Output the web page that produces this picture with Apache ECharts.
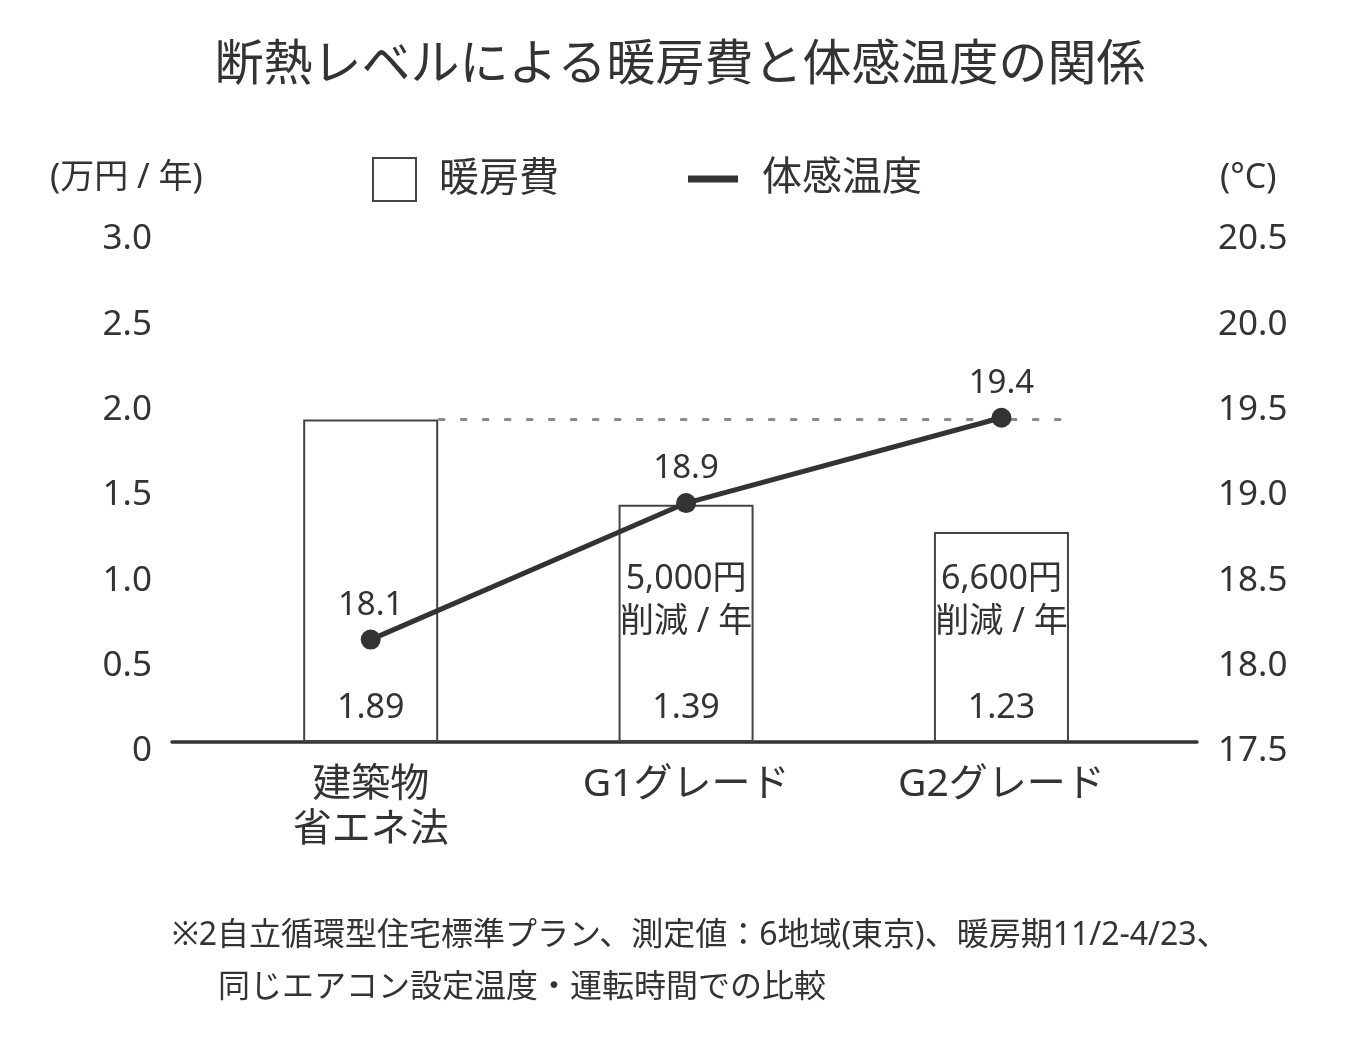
<!DOCTYPE html>
<html style="height: 100%;width:100%">
<head>
    <meta charset="utf-8">
    <style>
        html, body {
            margin: 0;
            padding: 0;
            height: 100%;
            width: 100%;
            background: #fff;
        }

        #chart-panel {
            width: 1360px;
            height: 1045px;
        }
    </style>
</head>
<body>
    <div id="chart-panel"></div>
    <script src="https://cdn.jsdelivr.net/npm/echarts@6/dist/echarts.min.js"></script>
    <script type="text/javascript">
        // データ
        var categories = ['建築物\n省エネ法', 'G1グレード', 'G2グレード'];
        var heatingCost = [1.89, 1.39, 1.23];      // 万円/年
        var feltTemp = [18.1, 18.9, 19.4];         // ℃
        var savings = ['', '5,000円\n削減 / 年', '6,600円\n削減 / 年'];
        var axisNames = ['(万円 / 年)', '(°C)'];
        var footnotes = [
            '※2自立循環型住宅標準プラン、測定値：6地域(東京)、暖房期11/2-4/23、',
            '同じエアコン設定温度・運転時間での比較'
        ];

        var FONT = "'Noto Sans', 'Noto Sans CJK JP', sans-serif";
        var TXT = '#333';
        var GRID_L = 172, GRID_R = 163;
        var X_MIN = -0.63, X_MAX = 2.62;
        var BAR_W = 135;
        // 棒の半幅（x軸の単位）: 点線を1本目の棒の右端から引くため
        var halfBar = (BAR_W / 2) / ((1360 - GRID_L - GRID_R) / (X_MAX - X_MIN));

        var myChart = echarts.init(document.getElementById('chart-panel'));

        function plainTitle(text, left, top, size) {
            return {
                text: text,
                left: left,
                top: top,
                textStyle: { fontFamily: FONT, fontSize: size, fontWeight: 'normal', color: TXT }
            };
        }

        var option = {
            backgroundColor: '#fff',
            textStyle: { fontFamily: FONT, color: TXT },
            title: [
                plainTitle('断熱レベルによる暖房費と体感温度の関係', 'center', 37, 49),
                plainTitle(axisNames[0], 45, 156, 34),
                plainTitle(axisNames[1], 1215, 156, 34),
                plainTitle(footnotes[0], 167, 915, 32),
                plainTitle(footnotes[1], 213, 967, 32)
            ],
            legend: [
                {
                    data: [{ name: '暖房費', icon: 'rect', itemStyle: { color: '#fff', borderColor: '#444', borderWidth: 2 } }],
                    left: 367,
                    top: 152,
                    itemWidth: 43,
                    itemHeight: 43,
                    selectedMode: false,
                    textStyle: { fontFamily: FONT, fontSize: 40, color: TXT, padding: [0, 0, 0, 18] }
                },
                {
                    data: [{ name: '体感温度', icon: 'rect' }],
                    left: 683,
                    top: 154,
                    itemWidth: 50,
                    itemHeight: 7,
                    selectedMode: false,
                    textStyle: { fontFamily: FONT, fontSize: 40, color: TXT, padding: [0, 0, 0, 19] }
                }
            ],
            grid: { left: GRID_L, right: GRID_R, top: 230, bottom: 303 },
            xAxis: {
                type: 'value',
                min: X_MIN,
                max: X_MAX,
                splitLine: { show: false },
                axisTick: { show: false },
                axisLine: { show: true, onZero: false, lineStyle: { color: '#333', width: 3.5 } },
                axisLabel: {
                    customValues: [0, 1, 2],
                    formatter: function (v) { return categories[Math.round(v)]; },
                    fontFamily: FONT,
                    fontSize: 39,
                    lineHeight: 45,
                    color: TXT,
                    margin: 20
                }
            },
            yAxis: [
                {
                    type: 'value',
                    min: 0,
                    max: 3,
                    interval: 0.5,
                    splitLine: { show: false },
                    axisLine: { show: false },
                    axisTick: { show: false },
                    axisLabel: {
                        fontFamily: FONT, fontSize: 35, color: TXT, margin: 20,
                        verticalAlign: 'top', lineHeight: 19,
                        formatter: function (v) { return v === 0 ? '0' : v.toFixed(1); }
                    }
                },
                {
                    type: 'value',
                    min: 17.5,
                    max: 20.5,
                    interval: 0.5,
                    splitLine: { show: false },
                    axisLine: { show: false },
                    axisTick: { show: false },
                    axisLabel: {
                        fontFamily: FONT, fontSize: 35, color: TXT, margin: 21,
                        verticalAlign: 'top', lineHeight: 19,
                        formatter: function (v) { return v.toFixed(1); }
                    }
                }
            ],
            series: [
                {
                    name: '暖房費',
                    type: 'bar',
                    yAxisIndex: 0,
                    barWidth: BAR_W,
                    data: heatingCost.map(function (v, i) { return [i, v]; }),
                    itemStyle: { color: '#fff', borderColor: '#444', borderWidth: 2 },
                    label: {
                        show: true,
                        position: 'insideBottom',
                        distance: 12,
                        fontFamily: FONT,
                        fontSize: 34,
                        lineHeight: 43,
                        color: TXT,
                        formatter: function (p) {
                            var s = savings[p.dataIndex];
                            return (s ? s + '\n\n' : '') + heatingCost[p.dataIndex].toFixed(2);
                        }
                    },
                    markLine: {
                        silent: true,
                        symbol: 'none',
                        label: { show: false },
                        lineStyle: { color: '#8a8a8a', width: 3, type: [7, 15] },
                        data: [[
                            { coord: [halfBar, heatingCost[0]] },
                            { coord: [categories.length - 1 + halfBar, heatingCost[0]] }
                        ]]
                    }
                },
                {
                    name: '体感温度',
                    type: 'line',
                    yAxisIndex: 1,
                    z: 5,
                    data: feltTemp.map(function (v, i) { return [i, v]; }),
                    color: '#333',
                    lineStyle: { color: '#333', width: 5 },
                    itemStyle: { color: '#333' },
                    symbol: 'circle',
                    symbolSize: 20,
                    label: {
                        show: true,
                        position: 'top',
                        distance: 8,
                        fontFamily: FONT,
                        fontSize: 33,
                        color: TXT,
                        formatter: function (p) { return feltTemp[p.dataIndex].toFixed(1); }
                    }
                }
            ]
        };

        myChart.setOption(option);
        window.addEventListener('resize', function () {
            myChart.resize();
        });
    </script>
</body>
</html>
